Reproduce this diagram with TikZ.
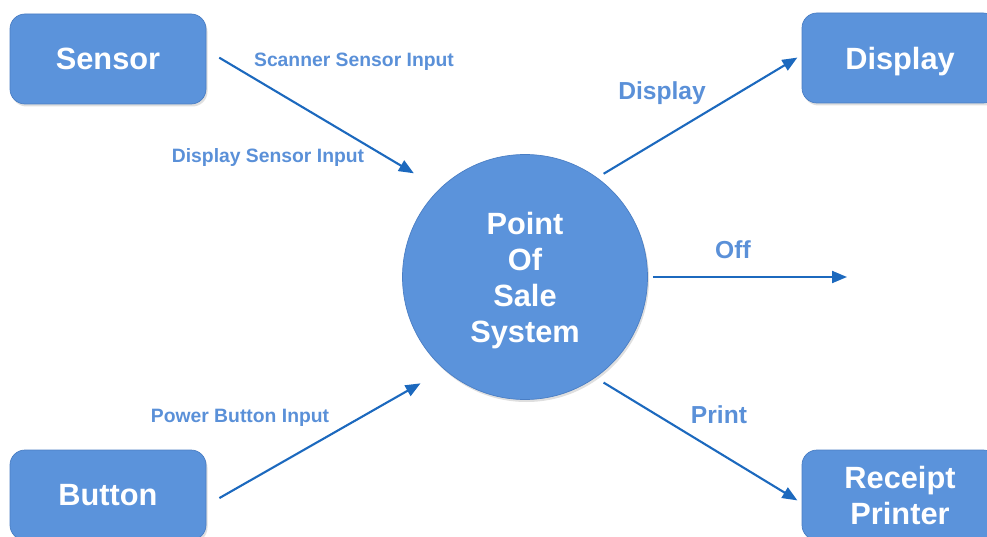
\documentclass[tikz,border=0pt]{standalone}
\usepackage{fontspec}
\setmainfont{Liberation Sans}
\usetikzlibrary{arrows.meta,shadows}
\definecolor{boxblue}{HTML}{5B93DB}
\definecolor{boxline}{HTML}{4A7EC4}
\definecolor{flowblue}{HTML}{1C69BE}
\definecolor{lblblue}{HTML}{5A90D8}

\begin{document}
\begin{tikzpicture}
            [box/.style={rectangle,rounded corners=0.3cm,draw=boxline,fill=boxblue,minimum width=3.92cm,minimum height=1.8cm,text depth=0pt,text=white,align=center,font=\bfseries\fontsize{17.5}{20.5}\selectfont,drop shadow={shadow xshift=0.03cm,shadow yshift=-0.05cm,opacity=0.25}},
            sys/.style={circle,draw=boxline,fill=boxblue,minimum size=4.9cm,text depth=0pt,text=white,align=center,font=\bfseries\fontsize{17.5}{20.5}\selectfont,drop shadow={shadow xshift=0.03cm,shadow yshift=-0.05cm,opacity=0.25}},
            flow/.style={draw=flowblue,line width=1.2pt,-{Triangle[length=0.3cm,width=0.24cm]}},
            lbl/.style={text=lblblue,anchor=base,font=\bfseries\fontsize{11}{13}\selectfont},
            biglbl/.style={text=lblblue,anchor=base,font=\bfseries\fontsize{14}{16}\selectfont}]
            \useasboundingbox (0,0) rectangle (19.74,-10.74);
            \node[box] (sensor) at (2.16,-1.18) {Sensor};
            \node[box] (button) at (2.16,-9.9) {Button};
            \node[box] (display) at (18.0,-1.16) {Display};
            \node[box] (printer) at (18.0,-9.9) {Receipt\\Printer};
            \node[sys] (pos) at (10.5,-5.54) {Point\\Of\\Sale\\System};
            \coordinate (offend) at (16.94,-5.54);
            % inputs
            \draw[flow,shorten <=0.3cm,shorten >=0.6cm] ([yshift=0.18cm]sensor.east) -- (pos.134);
            \draw[flow,shorten <=0.3cm,shorten >=0.55cm] ([yshift=-0.21cm]button.east) -- (pos.229);
            % outputs
            \draw[flow,shorten <=0.15cm,shorten >=0.1cm] (pos.54.5) -- ([yshift=0.06cm]display.west);
            \draw[flow,shorten <=0.1cm] (pos.east) -- (offend);
            \draw[flow,shorten <=0.19cm,shorten >=0.1cm] (pos.-55) -- ([yshift=-0.16cm]printer.west);
            % labels
            \node[lbl] (scanlbl) at (7.08,-1.34) {Scanner Sensor Input};
            \node[lbl] (displbl) at (5.36,-3.26) {Display Sensor Input};
            \node[lbl] (powerlbl) at (4.8,-8.44) {Power Button Input};
            \node[biglbl] (showlbl) at (13.24,-2.0) {Display};
            \node[biglbl] (offlbl) at (14.66,-5.16) {Off};
            \node[biglbl] (printlbl) at (14.38,-8.46) {Print};
        \end{tikzpicture}
\end{document}
